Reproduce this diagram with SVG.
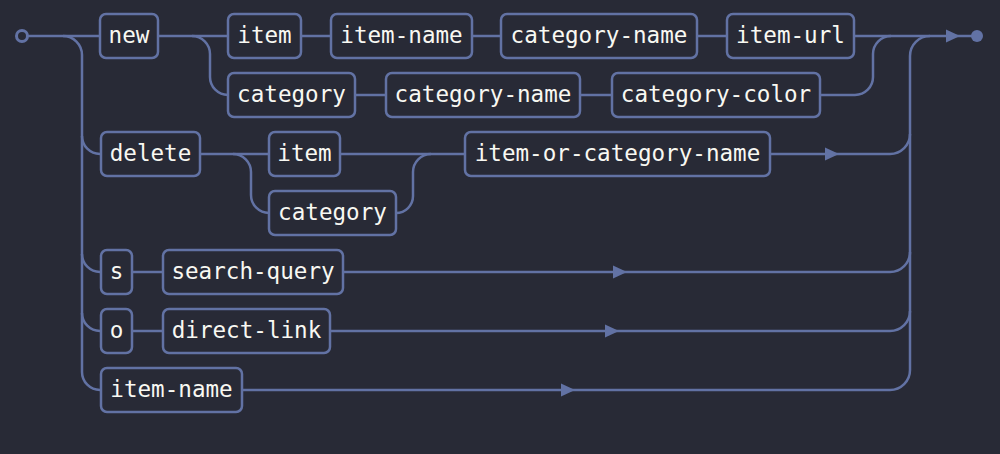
<svg xmlns="http://www.w3.org/2000/svg" xmlns:xlink="http://www.w3.org/1999/xlink" width="1000" height="454" viewBox="0 0 1000 454">
<style>
.bg{fill:#282a36}
.box{fill:#282a36;stroke:#6272a4;stroke-width:2.5}
.lbl{font-family:"DejaVu Sans Mono","Liberation Mono",monospace;font-size:22.6px;fill:#f8f8f2;text-anchor:middle}
.ln{fill:none;stroke:#6272a4;stroke-width:2.5}
.arr{fill:#6272a4}
</style>
<defs>
<path id="arrow" d="M-7 -6.5 L7 0 L-7 6.5 Z"/>
</defs>
<rect class="bg" x="0" y="0" width="1000" height="454"/>
<g id="connectors">
<circle cx="22" cy="36" r="5.5" fill="#282a36" stroke="#6272a4" stroke-width="3"/>
<path class="ln" d="M27.5 36 H100"/>
<path class="ln" d="M158 36 H228"/>
<path class="ln" d="M301 36 H331"/>
<path class="ln" d="M472 36 H501"/>
<path class="ln" d="M697 36 H727"/>
<path class="ln" d="M854 36 H972"/>
<path class="ln" d="M192 36 A18 18 0 0 1 210 54 V77 A18 18 0 0 0 228 95"/>
<path class="ln" d="M355 95 H386"/>
<path class="ln" d="M580 95 H612"/>
<path class="ln" d="M820 95 H855 A18 18 0 0 0 873 77 V54 A18 18 0 0 1 891 36"/>
<path class="ln" d="M63 36 A19 19 0 0 1 82 55 V372 A18 18 0 0 0 100 390"/>
<path class="ln" d="M82 136 A18 18 0 0 0 100 154"/>
<path class="ln" d="M82 254 A18 18 0 0 0 100 272"/>
<path class="ln" d="M82 313 A18 18 0 0 0 100 331"/>
<path class="ln" d="M200 154 H269"/>
<path class="ln" d="M233 154 A18 18 0 0 1 251 172 V195 A18 18 0 0 0 269 213"/>
<path class="ln" d="M340 154 H465"/>
<path class="ln" d="M396 213 A17 17 0 0 0 413 196 V172 A18 18 0 0 1 431 154"/>
<path class="ln" d="M770 154 H890 A20 20 0 0 0 910 134"/>
<path class="ln" d="M910 370 V56 A20 20 0 0 1 930 36"/>
<path class="ln" d="M132 272 H163"/>
<path class="ln" d="M343 272 H890 A20 20 0 0 0 910 252"/>
<path class="ln" d="M132 331 H163"/>
<path class="ln" d="M330 331 H890 A20 20 0 0 0 910 311"/>
<path class="ln" d="M242 390 H890 A20 20 0 0 0 910 370"/>
<use href="#arrow" class="arr" x="953" y="36"/>
<use href="#arrow" class="arr" x="832" y="154"/>
<use href="#arrow" class="arr" x="620" y="272"/>
<use href="#arrow" class="arr" x="612" y="331"/>
<use href="#arrow" class="arr" x="568" y="390"/>
<circle cx="977" cy="36" r="6" fill="#6272a4"/>
</g>
<g id="n-new"><rect class="box" x="100" y="14" width="58" height="44" rx="6"/><text class="lbl" x="129" y="43">new</text></g>
<g id="n-item1"><rect class="box" x="228" y="14" width="73" height="44" rx="6"/><text class="lbl" x="264.5" y="43">item</text></g>
<g id="n-item-name1"><rect class="box" x="331" y="14" width="141" height="44" rx="6"/><text class="lbl" x="401.5" y="43">item-name</text></g>
<g id="n-category-name1"><rect class="box" x="501" y="14" width="196" height="44" rx="6"/><text class="lbl" x="599" y="43">category-name</text></g>
<g id="n-item-url"><rect class="box" x="727" y="14" width="127" height="44" rx="6"/><text class="lbl" x="790.5" y="43">item-url</text></g>
<g id="n-category1"><rect class="box" x="228" y="73" width="127" height="44" rx="6"/><text class="lbl" x="291.5" y="102">category</text></g>
<g id="n-category-name2"><rect class="box" x="386" y="73" width="194" height="44" rx="6"/><text class="lbl" x="483" y="102">category-name</text></g>
<g id="n-category-color"><rect class="box" x="612" y="73" width="208" height="44" rx="6"/><text class="lbl" x="716" y="102">category-color</text></g>
<g id="n-delete"><rect class="box" x="101" y="132" width="99" height="44" rx="6"/><text class="lbl" x="150.5" y="161">delete</text></g>
<g id="n-item2"><rect class="box" x="269" y="132" width="71" height="44" rx="6"/><text class="lbl" x="304.5" y="161">item</text></g>
<g id="n-category2"><rect class="box" x="269" y="191" width="127" height="44" rx="6"/><text class="lbl" x="332.5" y="220">category</text></g>
<g id="n-item-or-category-name"><rect class="box" x="465" y="132" width="305" height="44" rx="6"/><text class="lbl" x="617.5" y="161">item-or-category-name</text></g>
<g id="n-s"><rect class="box" x="101" y="250" width="31" height="44" rx="6"/><text class="lbl" x="116.5" y="279">s</text></g>
<g id="n-search-query"><rect class="box" x="163" y="250" width="180" height="44" rx="6"/><text class="lbl" x="253" y="279">search-query</text></g>
<g id="n-o"><rect class="box" x="101" y="309" width="31" height="44" rx="6"/><text class="lbl" x="116.5" y="338">o</text></g>
<g id="n-direct-link"><rect class="box" x="163" y="309" width="167" height="44" rx="6"/><text class="lbl" x="246.5" y="338">direct-link</text></g>
<g id="n-item-name2"><rect class="box" x="101" y="368" width="141" height="44" rx="6"/><text class="lbl" x="171.5" y="397">item-name</text></g>
</svg>
